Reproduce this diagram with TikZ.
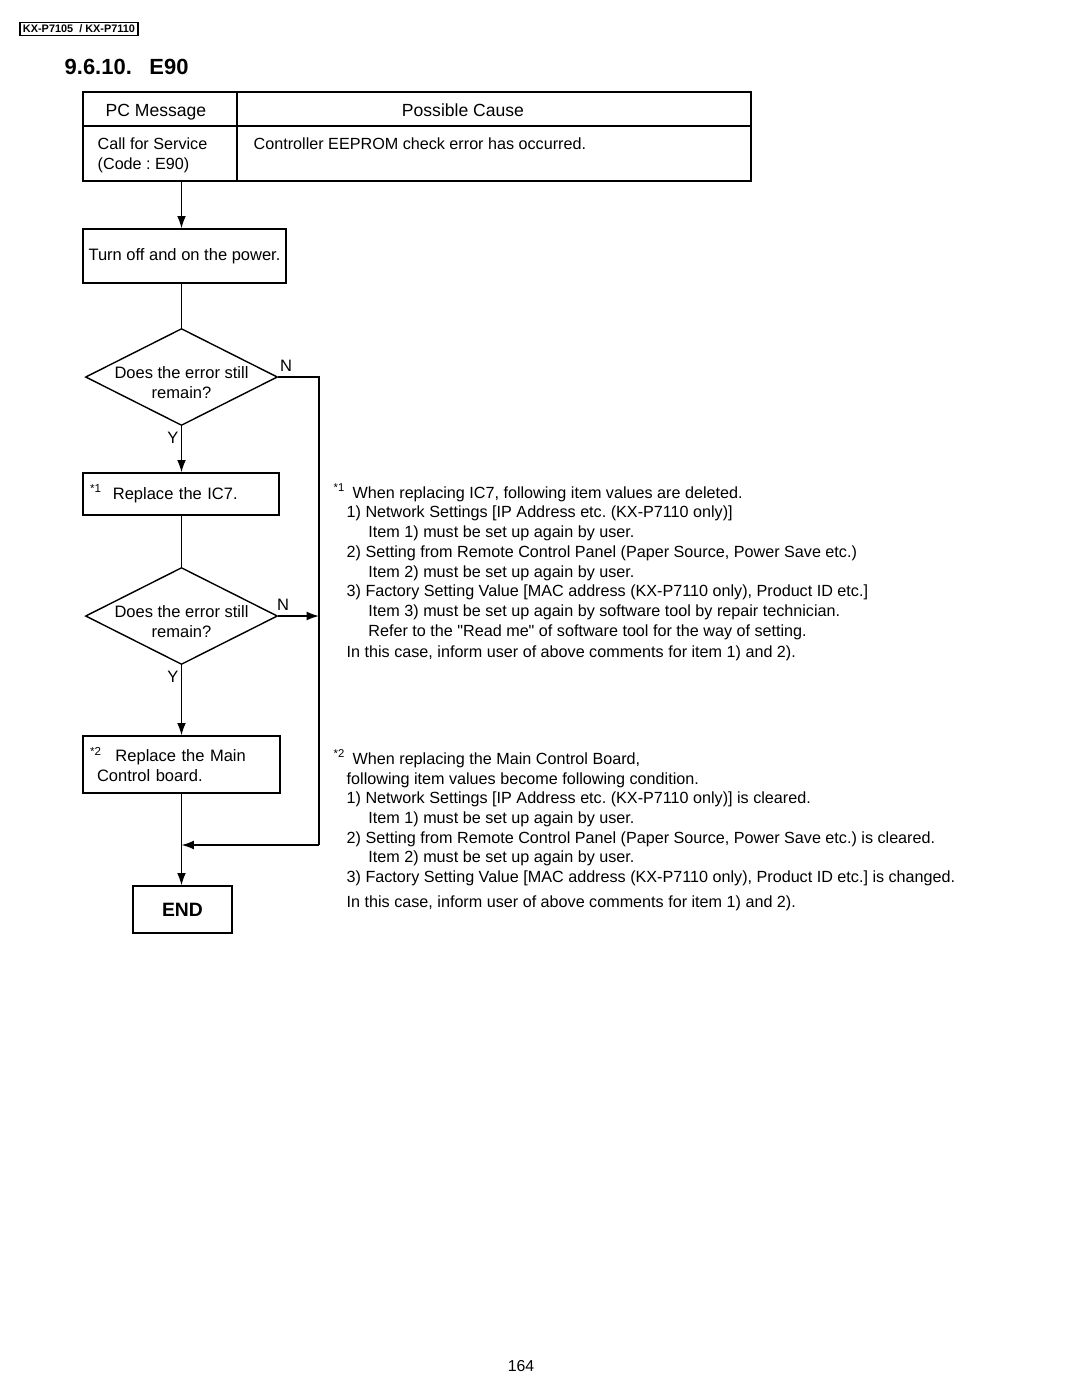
\documentclass[tikz,border=0pt]{standalone}
\usepackage{fontspec}
\setmainfont{Liberation Sans}
\newfontfamily\qtfont{Liberation Sans}
\usetikzlibrary{shapes.geometric,arrows.meta}
\frenchspacing

\begin{document}
\begin{tikzpicture}[x=0.02cm,y=-0.02cm,line width=0.8pt,
  box/.style={draw,rectangle,inner sep=0pt,font=\fontsize{9.4}{11.3}\selectfont},
  dec/.style={draw,diamond,inner sep=0pt,minimum width=3.84cm,minimum height=1.94cm},
  dectext/.style={align=center,inner sep=0pt,yshift=-0.12cm,font=\fontsize{9.4}{11.3}\selectfont},
  yn/.style={inner sep=0pt,font=\fontsize{9.4}{11.3}\selectfont},
  arr/.style={-{Latex[length=7pt,width=5pt]}},
  txt/.style={inner sep=0pt,align=left,font=\fontsize{9.2}{11.3}\selectfont},
  note/.style={anchor=north west,inner sep=0pt,align=left,font=\fontsize{9.2}{11.23}\selectfont}]
\useasboundingbox (0,0) rectangle (1080,1397);

% page head
\node[draw,line width=0.6pt,inner sep=0pt,minimum width=2.36cm,minimum height=0.26cm,
  font=\fontsize{6.2}{7}\selectfont\bfseries] (model) at (79,29) {KX-P7105\ \ / KX-P7110};
\node[anchor=base west,inner sep=0pt,font=\fontsize{12.5}{14}\selectfont\bfseries] (title) at (64,74) {9.6.10.\hspace{10pt}E90};

% table
\draw (83,92) rectangle (751,181);
\draw (83,126) -- (751,126);
\draw (237,92) -- (237,181);
\node[inner sep=0pt,anchor=base,font=\fontsize{10}{12}\selectfont] (pcmsg) at (156,116) {PC Message};
\node[inner sep=0pt,anchor=base,font=\fontsize{10}{12}\selectfont] (cause) at (463,116) {Possible Cause};
\node[txt,anchor=north west] (svc) at (97,137) {Call for Service\\(Code : E90)};
\node[txt,anchor=base west] (eeprom) at (253,149) {Controller EEPROM check error has occurred.};
\coordinate (tblout) at (181.5,181);

% flow
\node[box,minimum width=4.06cm,minimum height=1.08cm] (power) at (184.5,256) {Turn off and on the power.};
\node[dec] (dec1) at (181.5,377) {};
\node[dectext] at (dec1.center) {Does the error still\\remain?};
\node[box,minimum width=3.92cm,minimum height=0.84cm,text width=3.64cm,align=left] (ic7) at (181,494)
  {\makebox[13pt][l]{\textsuperscript{*1}}Replace the IC7.};
\node[dec] (dec2) at (181.5,616) {};
\node[dectext] at (dec2.center) {Does the error still\\remain?};
\node[box,minimum width=3.94cm,minimum height=1.14cm,text width=3.66cm,align=left] (mainbd) at (181.5,764.5)
  {\makebox[14.5pt][l]{\textsuperscript{*2}}Replace the Main\\\hspace*{4pt}Control board.};
\node[box,minimum width=1.98cm,minimum height=0.94cm,font=\fontsize{11}{13}\selectfont\bfseries] (end) at (182.5,909.5) {END};

\coordinate (rail) at (319,377);
\coordinate (join) at (181.5,845);

\draw[arr] (tblout) -- (tblout |- power.north);
\draw (dec1.north |- power.south) -- (dec1.north);
\draw[arr] (dec1.south) -- (dec1.south |- ic7.north);
\draw (dec2.north |- ic7.south) -- (dec2.north);
\draw[arr] (dec2.south) -- (dec2.south |- mainbd.north);
\draw[arr] (join |- mainbd.south) -- (join |- end.north);
\draw (dec1.east) -- (rail) -- (rail |- join);
\draw[arr] (rail |- join) -- (join);
\draw[arr] (dec2.east) -- (dec2.east -| rail);

\node[yn] (n1) at (286,366) {N};
\node[yn] (y1) at (173,438) {Y};
\node[yn] (n2) at (283,605) {N};
\node[yn] (y2) at (173,677) {Y};

% notes
\node[note] (note1) at (333,483) {\makebox[10.8pt][l]{\textsuperscript{*1}}When replacing IC7, following item values are deleted.\\
\hspace*{7.4pt}1) Network Settings [IP Address etc. (KX-P7110 only)]\\
\hspace*{19.8pt}Item 1) must be set up again by user.\\
\hspace*{7.4pt}2) Setting from Remote Control Panel (Paper Source, Power Save etc.)\\
\hspace*{19.8pt}Item 2) must be set up again by user.\\
\hspace*{7.4pt}3) Factory Setting Value [MAC address (KX-P7110 only), Product ID etc.]\\
\hspace*{19.8pt}Item 3) must be set up again by software tool by repair technician.\\
\hspace*{19.8pt}Refer to the {\qtfont "}Read me{\qtfont "} of software tool for the way of setting.\\[1pt]
\hspace*{7.4pt}In this case, inform user of above comments for item 1) and 2).};

\node[note] (note2) at (333,749) {\makebox[10.8pt][l]{\textsuperscript{*2}}When replacing the Main Control Board,\\
\hspace*{7.4pt}following item values become following condition.\\
\hspace*{7.4pt}1) Network Settings [IP Address etc. (KX-P7110 only)] is cleared.\\
\hspace*{19.8pt}Item 1) must be set up again by user.\\
\hspace*{7.4pt}2) Setting from Remote Control Panel (Paper Source, Power Save etc.) is cleared.\\
\hspace*{19.8pt}Item 2) must be set up again by user.\\
\hspace*{7.4pt}3) Factory Setting Value [MAC address (KX-P7110 only), Product ID etc.] is changed.\\[3pt]
\hspace*{7.4pt}In this case, inform user of above comments for item 1) and 2).};

\node[inner sep=0pt,font=\fontsize{9}{11}\selectfont] (page) at (521,1366) {164};
\end{tikzpicture}
\end{document}
